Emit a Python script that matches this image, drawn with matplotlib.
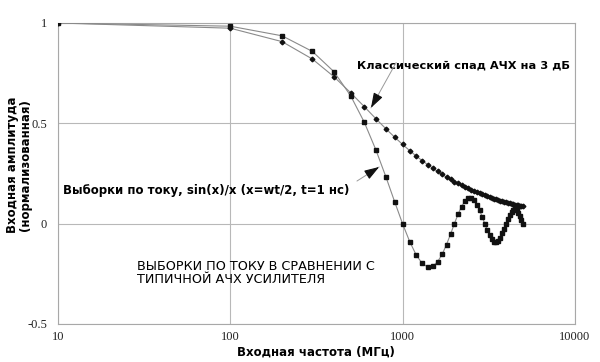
import matplotlib
matplotlib.use("Agg")
import matplotlib.pyplot as plt
from matplotlib.ticker import FixedLocator, NullLocator

# ── data ─────────────────────────────────────────────────────────────────────
freq_mhz = [10, 100, 200, 300, 400, 500, 600, 700, 800, 900,
            1000, 1100, 1200, 1300, 1400, 1500, 1600, 1700, 1800, 1900,
            2000, 2100, 2200, 2300, 2400, 2500, 2600, 2700, 2800, 2900,
            3000, 3100, 3200, 3300, 3400, 3500, 3600, 3700, 3800, 3900,
            4000, 4100, 4200, 4300, 4400, 4500, 4600, 4700, 4800, 4900, 5000]

# sampled current, sin(x)/x
sampled = [1.0, 0.984, 0.936, 0.858, 0.757, 0.637, 0.505, 0.368, 0.234, 0.109,
           0.0, -0.089, -0.156, -0.198, -0.216, -0.212, -0.189, -0.152, -0.104, -0.052,
           0.0, 0.047, 0.085, 0.112, 0.126, 0.127, 0.116, 0.095, 0.067, 0.034,
           0.0, -0.032, -0.059, -0.078, -0.089, -0.091, -0.084, -0.070, -0.049, -0.025,
           0.0, 0.024, 0.045, 0.060, 0.069, 0.071, 0.066, 0.055, 0.039, 0.020, 0.0]

# classic 3 dB roll-off
classic = [1.0, 0.974, 0.907, 0.820, 0.732, 0.652, 0.583, 0.523, 0.473, 0.431,
           0.395, 0.364, 0.337, 0.314, 0.294, 0.276, 0.260, 0.245, 0.232, 0.221,
           0.210, 0.201, 0.192, 0.184, 0.176, 0.170, 0.163, 0.157, 0.152, 0.147,
           0.142, 0.137, 0.133, 0.129, 0.125, 0.122, 0.119, 0.115, 0.112, 0.110,
           0.107, 0.104, 0.102, 0.0995, 0.0973, 0.0951, 0.0931, 0.0911, 0.0892, 0.0874, 0.0857]

x_ticks = [10, 100, 1000, 10000]
x_ticklabels = ["10", "100", "1000", "10000"]
y_ticks = [-0.5, 0, 0.5, 1]
y_ticklabels = ["-0.5", "0", "0.5", "1"]

# ── figure ───────────────────────────────────────────────────────────────────
fig = plt.figure(figsize=(6.0, 3.62), dpi=100)
ax = fig.add_axes([0.0967, 0.105, 0.8613, 0.8315])

line_c = "#8a8a8a"
ax.plot(freq_mhz, classic, color=line_c, lw=0.8, marker="D", ms=2.4,
        mfc="#111111", mec="#111111", zorder=3)
ax.plot(freq_mhz, sampled, color=line_c, lw=0.8, marker="s", ms=3.2,
        mfc="#111111", mec="#111111", zorder=3)

ax.set_xscale("log")
ax.set_xlim(10, 10000)
ax.set_ylim(-0.5, 1.0)
ax.xaxis.set_major_locator(FixedLocator(x_ticks))
ax.xaxis.set_minor_locator(NullLocator())
ax.set_xticklabels(x_ticklabels)
ax.set_yticks(y_ticks)
ax.set_yticklabels(y_ticklabels)
ax.tick_params(length=0, labelsize=9, colors="#222222")
ax.tick_params(axis="x", pad=5)
ax.tick_params(axis="y", pad=8)
for lab in ax.get_xticklabels() + ax.get_yticklabels():
    lab.set_family("Liberation Serif")

ax.grid(True, color="#b8b8b8", lw=0.8)
for s in ax.spines.values():
    s.set_color("#a8a8a8")
    s.set_linewidth(0.8)

# axis titles placed by hand so nothing is clipped
fig.text(0.527, 0.028, "Входная частота (МГц)", fontsize=8.5,
         fontweight="bold", ha="center", va="center")
fig.text(0.031, 0.544, "Входная амплитуда\n(нормализованная)", fontsize=8.5,
         fontweight="bold", ha="center", va="center", rotation=90,
         linespacing=1.0)

# annotations
ax.text(0.578, 0.86, "Классический спад АЧХ на 3 дБ", transform=ax.transAxes,
        fontsize=8.2, fontweight="bold", va="center", ha="left")
ax.text(0.009, 0.443, "Выборки по току, sin(x)/x (x=wt/2, t=1 нс)",
        transform=ax.transAxes, fontsize=8.5, fontweight="bold",
        va="center", ha="left")
ax.text(0.153, 0.17, "ВЫБОРКИ ПО ТОКУ В СРАВНЕНИИ С\nТИПИЧНОЙ АЧХ УСИЛИТЕЛЯ",
        transform=ax.transAxes, fontsize=9.2, va="center", ha="left",
        linespacing=0.95)

# arrows: thin gray leader + black barbed head
for tail, tip in [((935, 0.815), (644, 0.565)), ((527, 0.205), (755, 0.29))]:
    ax.annotate("", xy=tip, xytext=tail,
                arrowprops=dict(arrowstyle="-", color="#999999", lw=0.7))
    fx = (tail[0] / tip[0]) ** 0.3 * tip[0]
    fy = tip[1] + (tail[1] - tip[1]) * 0.3
    ax.annotate("", xy=tip, xytext=(fx, fy),
                arrowprops=dict(arrowstyle="-|>,head_length=0.9,head_width=0.3",
                                color="#111111", lw=0.8, mutation_scale=10))

fig.savefig("out.png", dpi=100)
